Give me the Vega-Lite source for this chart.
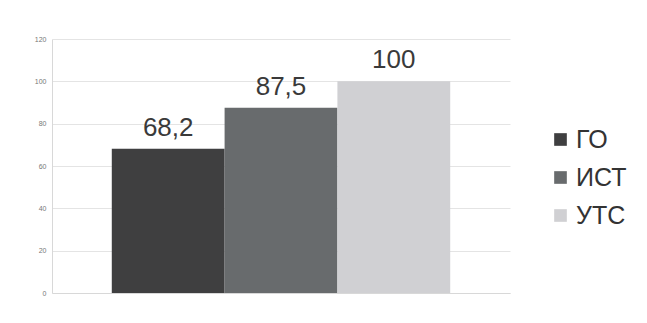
{
  "$schema": "https://vega.github.io/schema/vega-lite/v6.json",
  "autosize": {"type": "none"},
  "width": 458,
  "height": 254,
  "padding": {"left": 52, "top": 39, "right": 137, "bottom": 30},
  "background": "#ffffff",
  "config": {
    "locale": {"number": {"decimal": ",", "thousands": " ", "grouping": [3], "currency": ["", ""]}},
    "view": {"stroke": null},
    "font": "Liberation Sans"
  },
  "data": {
    "values": [
      {"group": "ГО", "value": 68.2},
      {"group": "ИСТ", "value": 87.5},
      {"group": "УТС", "value": 100}
    ]
  },
  "encoding": {
    "x": {
      "field": "group",
      "type": "nominal",
      "sort": ["ГО", "ИСТ", "УТС"],
      "scale": {"paddingInner": 0, "paddingOuter": 0.53},
      "axis": {"labels": false, "ticks": false, "title": null, "domainColor": "#d8d8d8", "grid": false}
    },
    "y": {
      "field": "value",
      "type": "quantitative",
      "scale": {"domain": [0, 120]},
      "axis": {
        "values": [0, 20, 40, 60, 80, 100, 120],
        "title": null,
        "labelFontSize": 7,
        "labelColor": "#777777",
        "labelPadding": 6,
        "ticks": false,
        "domainColor": "#d8d8d8",
        "gridColor": "#e4e4e4"
      }
    }
  },
  "layer": [
    {
      "mark": {"type": "bar"},
      "encoding": {
        "color": {
          "field": "group",
          "type": "nominal",
          "scale": {"domain": ["ГО", "ИСТ", "УТС"], "range": ["#3f3f40", "#686b6d", "#d0d0d3"]},
          "legend": {
            "orient": "none",
            "legendX": 496,
            "legendY": 88,
            "title": null,
            "symbolType": "square",
            "symbolSize": 160,
            "symbolStrokeWidth": 0,
            "labelFontSize": 25,
            "labelColor": "#333333",
            "rowPadding": 12,
            "labelOffset": 3
          }
        }
      }
    },
    {
      "mark": {"type": "text", "dy": -21, "fontSize": 26, "color": "#3a3a3a"},
      "encoding": {
        "text": {"field": "value", "type": "quantitative", "format": "~g"}
      }
    }
  ]
}
